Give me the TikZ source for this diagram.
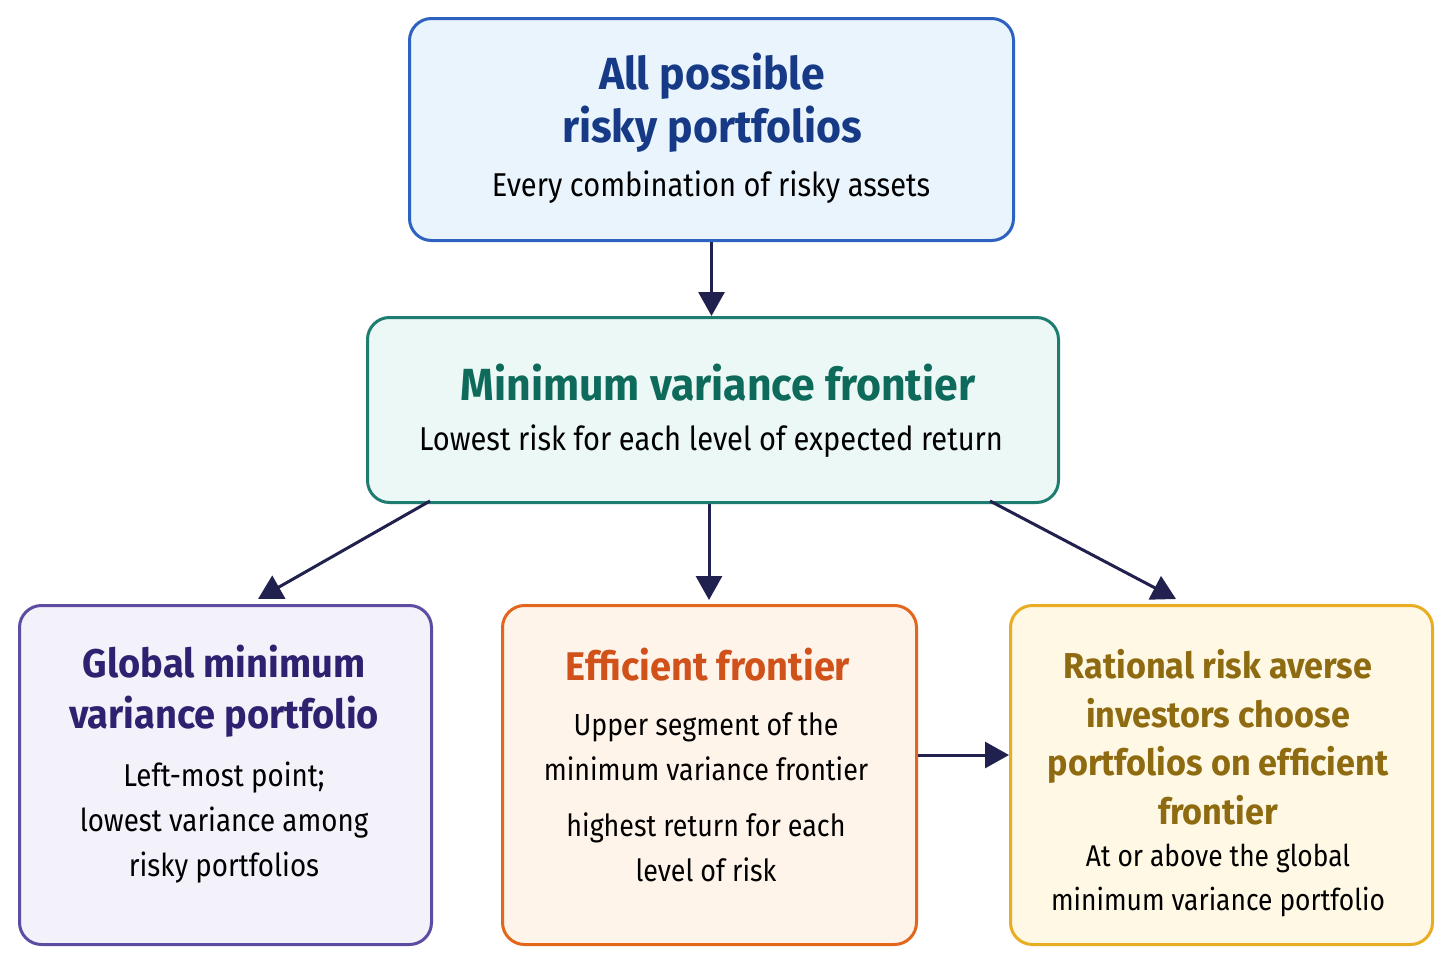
\documentclass[tikz,border=0pt]{standalone}
\usepackage{fontspec}
\setmainfont{Fira Sans}
\newfontfamily\bodyfont{Fira Sans}[FakeStretch=0.88]
\newfontfamily\titlefont{Fira Sans}[FakeStretch=0.95]
\usetikzlibrary{arrows.meta}
\definecolor{topB}{HTML}{2E62C0}\definecolor{topF}{HTML}{EAF4FD}\definecolor{topT}{HTML}{173A87}
\definecolor{midB}{HTML}{1E7D70}\definecolor{midF}{HTML}{ECF8F6}\definecolor{midT}{HTML}{0E6A5B}
\definecolor{lftB}{HTML}{5E4CA3}\definecolor{lftF}{HTML}{F3F1F9}\definecolor{lftT}{HTML}{2E2170}
\definecolor{effB}{HTML}{E2661C}\definecolor{effF}{HTML}{FFF4EA}\definecolor{effT}{HTML}{D0521A}
\definecolor{ratB}{HTML}{E8AD22}\definecolor{ratF}{HTML}{FFF8E5}\definecolor{ratT}{HTML}{8E6A10}
\definecolor{arr}{HTML}{20214F}
\tikzset{
  box/.style={draw, line width=3pt, rounded corners=22pt},
  ttl/.style={align=center, inner sep=0pt, font=\titlefont\bfseries\fontsize{40}{51}\selectfont},
  bigttl/.style={ttl, font=\titlefont\bfseries\fontsize{45}{53}\selectfont},
  bdy/.style={align=center, inner sep=0pt, font=\bodyfont\fontsize{30.5}{45}\selectfont, text=black},
  bigbdy/.style={bdy, font=\bodyfont\fontsize{33}{45}\selectfont},
  conn/.style={draw=arr, line width=3pt, -{Triangle[width=26pt,length=24pt]}},
}
\begin{document}
\begin{tikzpicture}[x=1pt,y=-1pt]
\useasboundingbox[fill=white] (0,0) rectangle (1448,961);
% boxes
\node[box, draw=topB, fill=topF, minimum width=604pt, minimum height=222pt, anchor=north west] (top) at (408,17) {};
\node[box, draw=midB, fill=midF, minimum width=691pt, minimum height=185pt, anchor=north west] (mid) at (366,316) {};
\node[box, draw=lftB, fill=lftF, minimum width=412pt, minimum height=339pt, anchor=north west] (gmv) at (18,604) {};
\node[box, draw=effB, fill=effF, minimum width=414pt, minimum height=339pt, anchor=north west] (eff) at (501,604) {};
\node[box, draw=ratB, fill=ratF, minimum width=422pt, minimum height=339pt, anchor=north west] (rat) at (1009,604) {};
% texts
\node[bigttl, text=topT] (topt) at (712,103) {All possible\\risky portfolios};
\node[bigbdy] (topb) at (711,187) {Every combination of risky assets};
\node[bigttl, text=midT] (midt) at (718,383) {Minimum variance frontier};
\node[bigbdy] (midb) at (711,441) {Lowest risk for each level of expected return};
\node[ttl, text=lftT] (gmvt) at (224,691) {Global minimum\\variance portfolio};
\node[bdy, font=\bodyfont\fontsize{31.5}{45}\selectfont] (gmvb) at (224,823) {Left-most point;\\lowest variance among\\risky portfolios};
\node[ttl, text=effT] (efft) at (708,665) {Efficient frontier};
\node[bdy] (effb1) at (706,747) {Upper segment of the\\minimum variance frontier};
\node[bdy] (effb2) at (706,847) {highest return for each\\level of risk};
\node[ttl, text=ratT, font=\titlefont\bfseries\fontsize{36}{48.5}\selectfont] (ratt) at (1218,737) {Rational risk averse\\investors choose\\portfolios on efficient\\frontier};
\node[bdy, font=\bodyfont\fontsize{30}{44}\selectfont] (ratb) at (1218,880) {At or above the global\\minimum variance portfolio};
% connectors
\draw[conn] (top.south) -- (top.south |- mid.north);
\coordinate (ec) at (709,600);
\draw[conn] (mid.south -| ec) -- (ec);
\coordinate (ml) at (430,501);
\coordinate (mr) at (990,501);
\coordinate (gl) at (258,599);
\coordinate (rl) at (1176,599);
\draw[conn] (ml) -- (gl);
\draw[conn] (mr) -- (rl);
\draw[conn] (eff.east |- 0,755) -- (rat.west |- 0,755);
\end{tikzpicture}
\end{document}
